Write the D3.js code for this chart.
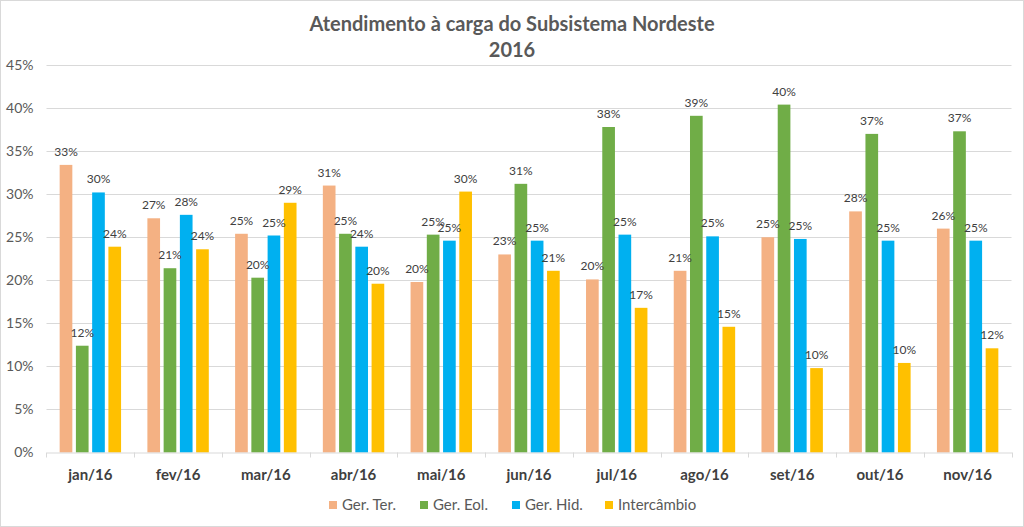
<!DOCTYPE html>
<html><head><meta charset="utf-8">
<script src="https://cdn.jsdelivr.net/npm/d3@7"></script>
<style>
html,body{margin:0;padding:0;background:#fff;}
svg{display:block;font-family:Lato,"Open Sans",sans-serif;}
</style></head>
<body>
<svg id="chart" width="1024" height="527"></svg>
<script>
const months = ["jan/16","fev/16","mar/16","abr/16","mai/16","jun/16","jul/16","ago/16","set/16","out/16","nov/16"];
const seriesNames = ["Ger. Ter.","Ger. Eol.","Ger. Hid.","Intercâmbio"];
const seriesColors = ["#F4B183","#70AD47","#00B0F0","#FFC000"];
const gerTer = [0.334,0.272,0.254,0.310,0.198,0.230,0.201,0.211,0.250,0.280,0.260];
const gerEol = [0.124,0.214,0.203,0.254,0.253,0.312,0.378,0.391,0.404,0.370,0.373];
const gerHid = [0.302,0.276,0.252,0.239,0.246,0.246,0.253,0.251,0.248,0.246,0.246];
const intercambio = [0.239,0.236,0.290,0.196,0.303,0.211,0.168,0.146,0.098,0.104,0.121];
const yTicks = [0,0.05,0.10,0.15,0.20,0.25,0.30,0.35,0.40,0.45];
const titleLines = ["Atendimento à carga do Subsistema Nordeste","2016"];

const allSeries = [gerTer, gerEol, gerHid, intercambio];
const data = months.map((m,i)=>({month:m, values: allSeries.map((s,k)=>({key:seriesNames[k], k, v:s[i]}))}));

const svg = d3.select("#chart");
const W = 1024, H = 527;
const m = {left:46.5, right:1011.5, top:65, bottom:452.5};

// outer border
svg.append("rect").attr("x",0.5).attr("y",0.5).attr("width",W-1).attr("height",H-1)
  .attr("fill","#fff").attr("stroke","#d9d9d9");

const x0 = d3.scaleBand().domain(months).range([m.left,m.right]).paddingInner(0.3).paddingOuter(0.15);
const x1 = d3.scaleBand().domain(seriesNames).range([0,x0.bandwidth()]).paddingInner(0.22);
const y = d3.scaleLinear().domain([0,0.45]).range([m.bottom,m.top]);

// gridlines
svg.append("g").selectAll("line").data(yTicks.filter(t=>t>0)).join("line")
  .attr("x1",m.left).attr("x2",m.right)
  .attr("y1",d=>Math.round(y(d))+0.5).attr("y2",d=>Math.round(y(d))+0.5)
  .attr("stroke","#d9d9d9").attr("stroke-width",1);

// y axis labels
const yAxis = d3.axisLeft(y).tickValues(yTicks).tickFormat(d3.format(".0%")).tickSize(0).tickPadding(13);
const gy = svg.append("g").attr("transform",`translate(${m.left},0)`).call(yAxis);
gy.select(".domain").remove();
gy.selectAll("text").attr("fill","#595959").style("font-size","14px").style("font-family","Lato, sans-serif");

// bars
const groups = svg.append("g").selectAll("g").data(data).join("g")
  .attr("transform",d=>`translate(${x0(d.month)},0)`);
groups.selectAll("rect").data(d=>d.values).join("rect")
  .attr("x",d=>x1(d.key)).attr("width",x1.bandwidth())
  .attr("y",d=>y(d.v)).attr("height",d=>y(0)-y(d.v))
  .attr("fill",d=>seriesColors[d.k]);
groups.selectAll("text").data(d=>d.values).join("text")
  .attr("x",d=>x1(d.key)+x1.bandwidth()/2).attr("y",d=>y(d.v)-9)
  .attr("text-anchor","middle").attr("fill","#404040")
  .style("font-size","12px")
  .text(d=>d3.format(".0%")(d.v));

// x axis
const xAxis = d3.axisBottom(x0).tickSize(0).tickPadding(0);
const gx = svg.append("g").attr("transform",`translate(0,${m.bottom})`).call(xAxis);
gx.select(".domain").attr("stroke","#d9d9d9");
gx.selectAll(".tick text").attr("y",27).attr("dy",0)
  .attr("fill","#404040").style("font-size","15px").style("font-weight","bold").style("font-family","Lato, sans-serif");
// category separator ticks
const sepX = months.map(mo=>x0(mo)-x0.step()*x0.paddingInner()/2).concat([m.right]);
svg.append("g").selectAll("line").data(sepX).join("line")
  .attr("x1",d=>Math.round(d)+0.5).attr("x2",d=>Math.round(d)+0.5)
  .attr("y1",m.bottom).attr("y2",m.bottom+5).attr("stroke","#d9d9d9");

// title
svg.append("g").selectAll("text").data(titleLines).join("text")
  .attr("x",512).attr("y",(d,i)=>31+i*26).attr("text-anchor","middle")
  .attr("fill","#595959").style("font-size","20px").style("font-weight","bold")
  .text(d=>d);

// legend
const legendX = [329,420,512,605];
const lg = svg.append("g").selectAll("g").data(seriesNames).join("g")
  .attr("transform",(d,i)=>`translate(${legendX[i]},505)`);
lg.append("rect").attr("x",0).attr("y",-4).attr("width",8).attr("height",8).attr("fill",(d,i)=>seriesColors[i]);
lg.append("text").attr("x",13).attr("y",5).attr("fill","#595959").style("font-size","15px").text(d=>d);
</script>
</body></html>
